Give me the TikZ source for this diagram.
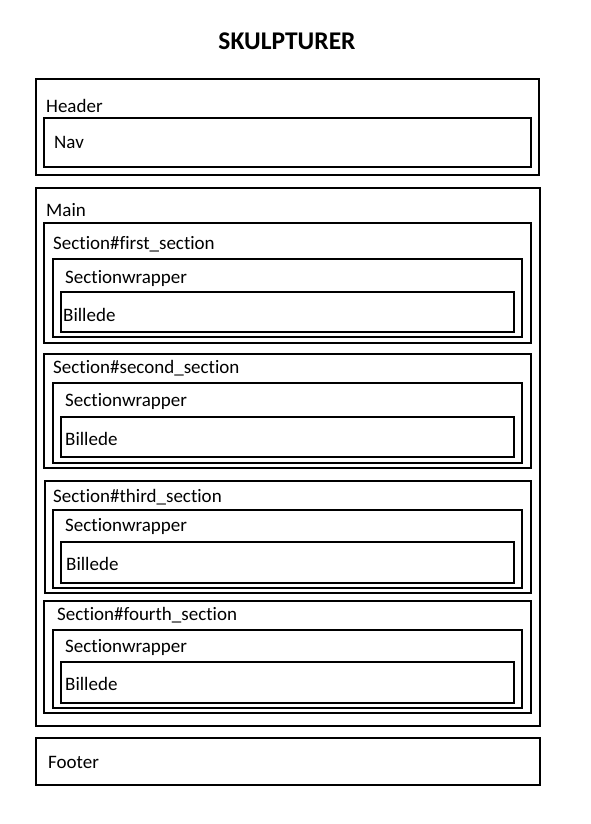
\documentclass[tikz,border=0pt]{standalone}
\usepackage{fontspec}
\setmainfont[Ligatures=NoCommon]{Carlito}

\begin{document}
\begin{tikzpicture}[x=1pt,y=-1pt,
		box/.style={line width=1.9pt},
		lbl/.style={anchor=west,inner sep=0pt,text height=12.2pt,text depth=0pt,font=\fontsize{19}{19}\selectfont}]
			\useasboundingbox (0,0) rectangle (590,824);
			\node[font=\bfseries\fontsize{25.5}{25.5}\selectfont] (title) at (287,41) {SKULPTURER};
			
			% header
			\draw[box] (36,79) rectangle (539,175);
			\draw[box] (44,118) rectangle (531,167);
			\node[lbl] (header) at (46,106) {Header};
			\node[lbl] (nav) at (54,142) {Nav};
			
			% main
			\draw[box] (36,188) rectangle (540,726);
			\node[lbl] (main) at (46,210) {Main};
			
			\draw[box] (44,223) rectangle (531,343);
			\draw[box] (53,259) rectangle (522,337);
			\draw[box] (61,292) rectangle (514,332);
			\node[lbl] (s1) at (53,243) {Section\#first\_section};
			\node[lbl] (w1) at (65,277) {Sectionwrapper};
			\node[lbl] (b1) at (63,315) {Billede};
			
			\draw[box] (44,354) rectangle (531,468);
			\draw[box] (53,383) rectangle (522,463);
			\draw[box] (61,417) rectangle (514,457);
			\node[lbl] (s2) at (53,367) {Section\#second\_section};
			\node[lbl] (w2) at (65,400) {Sectionwrapper};
			\node[lbl] (b2) at (65,439) {Billede};
			
			\draw[box] (45,481) rectangle (531,593);
			\draw[box] (53,510) rectangle (522,588);
			\draw[box] (61,542) rectangle (514,583);
			\node[lbl] (s3) at (53,496) {Section\#third\_section};
			\node[lbl] (w3) at (65,525) {Sectionwrapper};
			\node[lbl] (b3) at (66,564) {Billede};
			
			\draw[box] (44,601) rectangle (531,713);
			\draw[box] (53,630) rectangle (522,708);
			\draw[box] (61,662) rectangle (514,703);
			\node[lbl] (s4) at (57,614) {Section\#fourth\_section};
			\node[lbl] (w4) at (65,646) {Sectionwrapper};
			\node[lbl] (b4) at (65,684) {Billede};
			
			% footer
			\draw[box] (36,738) rectangle (540,785);
			\node[lbl] (footer) at (48,762) {Footer};
		\end{tikzpicture}
\end{document}
